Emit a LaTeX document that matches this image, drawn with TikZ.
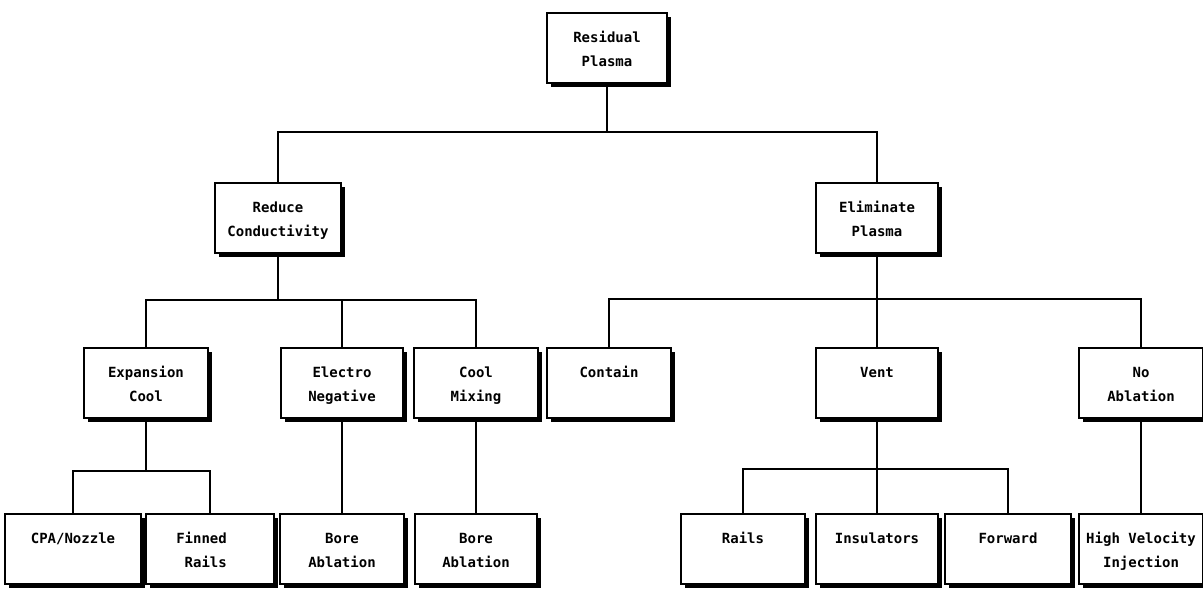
\documentclass[tikz,border=0pt]{standalone}
\usepackage{fontspec}
\newfontfamily\boxfont{DejaVu Sans Mono}
\usetikzlibrary{shadows}
\newcommand\bxt[1]{\begin{minipage}[t]{118pt}\centering\boxfont\bfseries\fontsize{14pt}{24pt}\selectfont\rule{0pt}{22pt}#1\end{minipage}}
\tikzset{
  tbox/.style={draw=black, line width=2pt, fill=white, rectangle, inner sep=0pt,
    text height=29pt, text depth=41pt,
    drop shadow={shadow xshift=4pt, shadow yshift=-4pt, fill=black, opacity=1}},
  conn/.style={draw=black, line width=2pt},
}
\begin{document}
\begin{tikzpicture}[x=1pt,y=-1pt]
\useasboundingbox (0,0) rectangle (1203,589);
\clip (0,0) rectangle (1203,589);
% level 1
\node[tbox, minimum width=120pt] (root) at (607,48) {\bxt{Residual\\Plasma}};
% level 2
\node[tbox, minimum width=126pt] (red) at (278,218) {\bxt{Reduce\\Conductivity}};
\node[tbox, minimum width=122pt] (elim) at (877,218) {\bxt{Eliminate\\Plasma}};
% level 3
\node[tbox, minimum width=124pt] (exp) at (146,383) {\bxt{Expansion\\Cool}};
\node[tbox, minimum width=122pt] (ele) at (342,383) {\bxt{Electro\\Negative}};
\node[tbox, minimum width=124pt] (coo) at (476,383) {\bxt{Cool\\Mixing}};
\node[tbox, minimum width=124pt] (con) at (609,383) {\bxt{Contain}};
\node[tbox, minimum width=122pt] (ven) at (877,383) {\bxt{Vent}};
\node[tbox, minimum width=124pt] (noa) at (1141,383) {\bxt{No\\Ablation}};
% level 4
\node[tbox, minimum width=136pt] (cpa) at (73,549) {\bxt{CPA/Nozzle}};
\node[tbox, minimum width=128pt] (fin) at (210,549) {\bxt{Finned\phantom{xx}\\\phantom{x}Rails\phantom{xx}}};
\node[tbox, minimum width=124pt] (bo1) at (342,549) {\bxt{Bore\\Ablation}};
\node[tbox, minimum width=122pt] (bo2) at (476,549) {\bxt{Bore\\Ablation}};
\node[tbox, minimum width=124pt] (rai) at (743,549) {\bxt{Rails}};
\node[tbox, minimum width=122pt] (ins) at (877,549) {\bxt{Insulators}};
\node[tbox, minimum width=126pt] (fwd) at (1008,549) {\bxt{Forward}};
\node[tbox, minimum width=124pt] (hv) at (1141,549) {\bxt{High Velocity\\Injection}};
% connectors
\draw[conn] (root.south) -- ++(0,48) coordinate (j0);
\draw[conn] (j0) -| (red.north);
\draw[conn] (j0) -| (elim.north);
\draw[conn] (red.south) -- ++(0,46) coordinate (j1);
\draw[conn] (j1) -| (exp.north);
\draw[conn] (j1) -| (ele.north);
\draw[conn] (j1) -| (coo.north);
\draw[conn] (elim.south) -- ++(0,45) coordinate (j2);
\draw[conn] (j2) -| (con.north);
\draw[conn] (j2) -| (ven.north);
\draw[conn] (j2) -| (noa.north);
\draw[conn] (exp.south) -- ++(0,52) coordinate (j3);
\draw[conn] (j3) -| (cpa.north);
\draw[conn] (j3) -| (fin.north);
\draw[conn] (ele.south) -- (bo1.north);
\draw[conn] (coo.south) -- (bo2.north);
\draw[conn] (ven.south) -- ++(0,50) coordinate (j4);
\draw[conn] (j4) -| (rai.north);
\draw[conn] (j4) -| (ins.north);
\draw[conn] (j4) -| (fwd.north);
\draw[conn] (noa.south) -- (hv.north);
\end{tikzpicture}
\end{document}
